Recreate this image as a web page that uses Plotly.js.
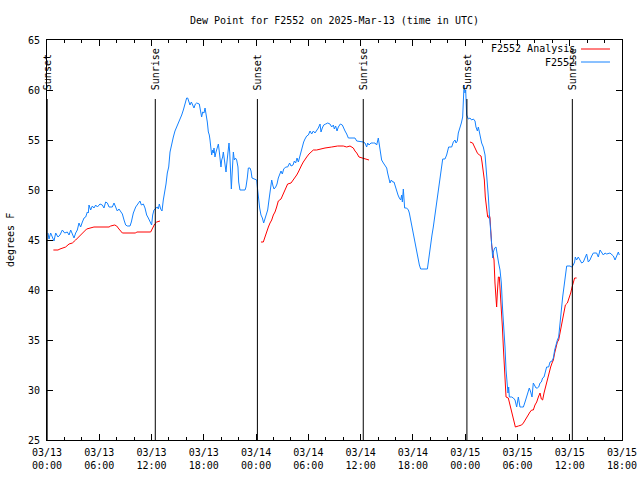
<!DOCTYPE html>
<html>
<head>
<meta charset="utf-8">
<script src="https://cdn.plot.ly/plotly-3.0.1.min.js"></script>
<style>html,body{margin:0;padding:0;background:#fff;}#chart{width:640px;height:480px;}</style>
</head>
<body>
<div id="chart"></div>
<script>
// Hours since 2025-03-13 00:00 UTC
const blueHours = [0.11,0.23,0.42,0.61,0.80,1.00,1.26,1.49,1.76,2.03,2.33,2.53,2.72,2.91,3.10,3.29,3.48,3.67,3.86,4.06,4.25,4.44,4.63,4.74,4.82,5.01,5.20,5.39,5.59,5.78,6.08,6.35,6.54,6.73,6.93,7.12,7.50,7.69,7.88,8.07,8.26,8.46,8.65,8.84,9.03,9.22,9.53,9.68,9.91,10.18,10.45,10.67,10.83,11.06,11.25,11.44,11.63,
11.82,12.01,12.13,12.28,12.51,12.66,12.78,12.89,13.05,13.20,13.35,13.54,13.66,13.81,13.97,14.12,14.31,14.50,14.69,14.88,15.07,15.27,15.46,15.65,15.84,16.03,16.15,16.26,16.41,16.57,16.72,16.87,17.03,17.18,17.48,17.64,17.75,17.87,18.02,18.14,18.25,18.40,18.52,18.63,18.71,18.79,18.90,19.02,19.09,19.17,19.28,19.40,19.55,19.67,19.78,19.86,19.97,20.05,20.16,20.24,20.35,20.47,20.55,20.62,20.70,20.81,20.89,20.97,21.04,21.16,21.24,21.31,21.39,21.50,21.62,21.77,21.92,22.00,22.15,22.73,22.84,22.99,23.11,23.30,23.42,23.53,23.76,
23.88,24.07,24.18,24.26,24.41,24.56,24.72,24.87,25.02,25.18,25.33,25.48,25.63,25.79,25.94,26.06,26.25,26.40,26.55,26.71,26.86,27.01,27.17,27.40,27.62,27.85,28.01,28.24,28.39,28.54,28.70,28.85,29.00,29.16,29.31,29.46,29.61,29.81,30.00,30.19,30.38,30.57,30.76,30.95,31.14,31.34,31.45,31.60,31.76,31.99,32.22,32.48,32.68,32.87,32.98,33.13,33.29,33.44,33.67,33.90,34.05,34.21,34.40,34.59,35.35,35.55,36.31,36.50,36.69,36.81,36.96,37.19,37.46,
37.65,37.84,38.03,38.15,38.30,38.41,38.61,38.80,38.99,39.10,39.26,39.37,39.52,39.68,39.83,39.98,40.14,40.29,40.44,40.60,40.71,40.79,40.90,40.98,41.05,41.28,41.48,41.59,41.74,41.90,42.05,42.20,42.36,42.51,42.74,42.89,43.66,43.77,43.89,44.04,44.19,44.34,44.50,44.65,44.80,44.96,45.11,45.26,45.42,45.68,45.87,46.10,46.45,46.64,46.83,46.95,47.10,47.21,47.41,47.56,47.71,47.79,47.87,47.98,48.06,48.17,48.36,48.55,48.74,48.94,49.13,49.24,49.40,49.51,
49.70,49.89,50.08,50.28,50.39,50.54,50.66,50.77,50.93,51.04,51.16,51.23,51.38,51.54,51.69,51.84,52.00,52.15,52.30,52.46,52.57,52.69,52.80,52.91,52.99,53.07,53.34,53.53,53.72,53.91,54.10,54.29,54.48,54.68,54.87,55.06,55.25,55.36,55.52,55.67,55.82,55.98,56.13,56.28,56.44,56.59,56.74,56.89,57.05,57.20,57.35,57.58,57.74,57.97,58.12,58.27,58.43,58.58,58.73,58.88,59.04,59.19,59.34,59.50,59.65,60.03,60.22,60.41,60.56,60.64,60.79,60.98,61.18,61.37,61.56,61.75,61.94,62.13,62.32,62.52,62.71,63.09,63.28,63.48,63.67,63.86,64.05,64.24,64.62,64.82,65.01,65.20,65.31,65.47,65.58,65.69];
const blueValues = [45.7,45.1,45.7,45.3,44.9,45.7,45.3,45.5,46.0,45.7,45.8,45.5,46.0,45.6,45.2,45.7,46.0,46.7,46.3,46.8,47.2,47.3,47.8,47.7,48.5,48.0,48.4,48.2,48.5,48.3,48.6,48.5,48.2,48.8,48.7,48.3,48.3,48.7,48.3,47.9,48.1,47.8,47.6,47.0,46.5,46.4,46.4,46.8,47.7,48.3,48.7,48.9,48.5,48.6,48.2,47.5,47.2,
46.8,46.5,47.5,48.0,48.2,48.3,48.1,48.6,48.1,47.9,49.0,49.8,50.6,51.7,52.3,53.8,54.7,55.3,55.9,56.3,56.7,57.0,57.5,58.0,58.7,59.2,59.2,58.8,58.5,58.8,58.4,58.2,58.6,58.7,58.6,57.8,57.3,57.8,57.7,58.2,57.7,56.8,55.8,55.5,55.0,54.0,53.5,54.0,53.7,54.2,53.3,53.8,54.3,54.6,53.8,52.7,52.3,53.0,53.3,53.8,53.0,52.5,51.8,52.5,53.3,54.2,54.7,53.8,51.5,50.1,51.5,53.3,53.8,53.0,53.2,53.0,52.3,50.8,50.0,50.0,50.3,51.2,52.2,52.2,51.9,51.2,51.1,
51.1,51.0,50.0,49.2,48.2,47.5,47.2,46.7,47.1,47.4,48.0,49.0,50.2,51.0,50.4,50.1,50.3,50.6,51.2,51.7,51.9,51.6,52.1,52.3,52.3,52.7,52.4,52.5,52.9,52.7,53.2,52.8,53.3,54.0,54.5,54.8,55.1,55.4,55.5,55.9,55.6,55.9,55.7,55.9,56.2,56.6,55.8,56.2,56.5,56.6,56.7,56.6,56.3,56.5,56.1,56.4,55.9,56.3,56.6,56.5,56.1,55.9,55.6,55.2,55.2,54.9,54.8,54.7,54.3,54.7,54.5,54.7,54.7,
54.7,54.5,55.2,54.5,53.8,53.0,52.7,52.4,52.2,51.7,51.2,50.7,51.0,50.8,50.8,50.3,49.8,49.5,49.2,49.0,49.5,48.8,50.1,49.0,48.2,48.2,48.0,47.7,47.0,46.3,45.7,45.0,44.0,43.2,42.5,42.1,42.1,42.8,43.7,44.5,45.5,46.3,47.3,48.3,49.3,50.3,51.3,52.3,53.1,53.1,53.5,54.3,54.3,54.8,55.0,54.7,54.9,55.7,56.2,56.7,57.3,59.3,60.5,59.7,60.0,57.5,57.1,57.2,57.0,57.1,56.9,56.3,55.9,56.3,
55.5,54.7,54.3,53.5,52.3,51.0,49.3,47.7,46.0,44.7,43.2,43.8,44.2,44.3,43.3,42.7,42.0,40.7,38.0,36.0,34.3,32.0,30.7,29.7,30.3,29.3,29.3,29.2,29.0,28.3,29.3,28.3,28.3,28.3,28.8,29.3,29.7,30.2,29.8,29.3,30.7,30.5,30.2,30.2,30.3,30.7,30.8,31.2,31.3,31.8,32.3,32.3,32.8,32.9,33.2,34.0,34.7,35.0,35.3,37.0,38.0,39.3,40.3,41.3,42.4,42.4,42.3,42.5,42.8,43.3,43.0,43.3,43.0,42.7,42.8,43.2,43.6,42.8,43.0,43.4,43.7,43.7,43.3,44.0,43.8,43.5,43.7,43.6,43.7,43.5,43.4,43.0,43.3,43.7,43.8,43.5];

const redHours = [0.73,1.26,1.49,1.87,2.14,2.53,2.91,3.29,3.67,4.06,4.32,4.55,4.94,5.39,7.12,7.31,7.77,8.00,8.26,8.53,8.65,10.18,10.29,11.90,12.09,12.36,12.59,12.97,
18.0,
24.56,24.83,25.02,25.21,25.41,25.60,25.79,25.98,26.17,26.36,26.55,26.86,27.13,27.40,27.62,28.01,28.27,28.47,28.66,28.85,29.04,29.23,29.42,29.61,29.81,30.07,30.30,30.57,30.95,31.34,31.91,32.68,33.36,34.01,34.40,34.78,35.16,35.35,35.55,35.81,36.12,36.50,36.96,
42.0,
48.55,48.86,49.13,49.40,49.62,49.82,49.93,50.08,50.20,50.31,50.47,50.58,50.70,50.77,50.85,50.93,51.04,51.16,51.31,51.42,51.54,51.61,51.69,51.81,51.92,52.00,52.15,52.27,52.38,52.49,52.61,52.69,52.95,53.15,53.30,53.45,53.60,53.76,54.10,54.48,54.68,54.87,55.06,55.25,55.44,55.63,55.82,56.01,56.21,56.40,56.59,56.74,56.89,57.05,57.20,57.35,57.51,57.66,57.81,57.97,58.12,58.27,58.43,58.58,58.73,58.88,59.04,59.19,59.34,59.50,59.73,59.96,60.11,60.27,60.41,60.56,60.79];
const redValues = [44.0,44.0,44.1,44.2,44.3,44.6,44.7,45.0,45.3,45.6,45.9,46.1,46.2,46.3,46.3,46.4,46.5,46.4,46.1,45.8,45.7,45.7,45.8,45.8,46.2,46.6,46.8,46.9,
null,
44.8,44.8,45.3,45.9,46.3,46.7,47.0,47.5,47.8,48.3,48.9,49.1,49.7,50.3,50.6,50.7,51.0,51.3,51.5,51.8,52.2,52.5,52.8,53.0,53.3,53.6,53.8,54.0,54.0,54.1,54.2,54.3,54.4,54.4,54.3,54.4,54.2,53.9,53.7,53.3,53.2,53.1,53.0,
null,
54.8,54.7,54.2,53.7,53.5,53.4,52.8,52.0,51.0,49.3,48.0,47.3,47.2,47.5,47.2,45.3,44.5,43.8,43.0,40.7,39.3,38.3,39.7,41.3,41.3,40.3,38.3,36.3,34.3,32.3,30.3,29.3,29.2,28.5,27.8,27.2,26.7,26.3,26.4,26.5,26.7,27.0,27.3,27.5,27.8,28.0,28.0,28.5,28.8,29.3,29.7,29.1,29.0,29.7,30.2,30.8,31.5,32.0,32.3,32.7,33.0,33.7,34.3,34.8,35.0,35.7,36.3,37.0,37.7,38.5,38.7,39.2,39.7,40.3,40.8,41.2,41.2];

const eventHours = [0.02, 12.43, 24.15, 36.30, 48.20, 60.30];
const eventLabels = ["Sunset", "Sunrise", "Sunset", "Sunrise", "Sunset", "Sunrise"];

const tickHours = [0,6,12,18,24,30,36,42,48,54,60,66];
const tickLabels = ["03/13<br>00:00","03/13<br>06:00","03/13<br>12:00","03/13<br>18:00",
  "03/14<br>00:00","03/14<br>06:00","03/14<br>12:00","03/14<br>18:00",
  "03/15<br>00:00","03/15<br>06:00","03/15<br>12:00","03/15<br>18:00"];

const seriesNames = ["F2552 Analysis", "F2552"];
const seriesColors = ["#ff0000", "#1482ff"];

const FONT = {family: "DejaVu Sans Mono, Liberation Mono, monospace", size: 10, color: "#000"};

const traces = [
  {x: redHours, y: redValues, type: "scatter", mode: "lines", name: seriesNames[0],
   line: {color: seriesColors[0], width: 1}, connectgaps: false},
  {x: blueHours, y: blueValues, type: "scatter", mode: "lines", name: seriesNames[1],
   line: {color: seriesColors[1], width: 1}}
];

const shapes = eventHours.map(h => ({
  type: "line", xref: "x", yref: "y", x0: h, x1: h, y0: 25, y1: 59.1,
  line: {color: "#000", width: 1}
}));
const annotations = eventHours.map((h, i) => ({
  xref: "x", yref: "y", x: h, y: 59.8, text: eventLabels[i], textangle: -90,
  showarrow: false, xanchor: "center", yanchor: "bottom", font: FONT
}));

// legend (gnuplot style: text then sample)
const legY = [0.9775, 0.945];
seriesNames.forEach((n, i) => {
  annotations.push({xref: "paper", yref: "paper", x: 0.9217, y: legY[i], text: n,
    showarrow: false, xanchor: "right", yanchor: "middle", font: FONT});
  shapes.push({type: "line", xref: "paper", yref: "paper", x0: 0.9287, x1: 0.9791,
    y0: legY[i], y1: legY[i], line: {color: seriesColors[i], width: 1}});
});

annotations.push({xref: "paper", yref: "paper", x: -0.0643, y: 0.5, text: "degrees F",
  textangle: -90, showarrow: false, xanchor: "center", yanchor: "middle", font: FONT});

const layout = {
  width: 640, height: 480,
  margin: {l: 47, r: 18, t: 40, b: 40, pad: 0},
  paper_bgcolor: "#fff", plot_bgcolor: "#fff",
  showlegend: false,
  font: FONT,
  title: {text: "Dew Point for F2552 on 2025-Mar-13 (time in UTC)", font: FONT,
    x: 0.5, xref: "paper", xanchor: "center", y: 1 - 20/480, yref: "container", yanchor: "middle"},
  xaxis: {
    range: [0, 66], tickmode: "array", tickvals: tickHours, ticktext: tickLabels,
    showgrid: false, zeroline: false, showline: true, linecolor: "#000", linewidth: 1,
    mirror: "allticks", ticks: "inside", ticklen: 6, tickcolor: "#000", tickwidth: 1,
    minor: {tickmode: "array", tickvals: [2,4,8,10,14,16,20,22,26,28,32,34,38,40,44,46,50,52,56,58,62,64], ticks: "inside", ticklen: 3, tickcolor: "#000", showgrid: false},
    tickfont: FONT, ticklabelstandoff: 3, fixedrange: true
  },
  yaxis: {
    range: [25, 65], dtick: 5, tick0: 25,
    showgrid: false, zeroline: false, showline: true, linecolor: "#000", linewidth: 1,
    mirror: "allticks", ticks: "inside", ticklen: 6, tickcolor: "#000", tickwidth: 1,
    tickfont: FONT, ticklabelstandoff: 4, fixedrange: true
  },
  shapes: shapes,
  annotations: annotations
};

Plotly.newPlot("chart", traces, layout, {staticPlot: true, displayModeBar: false});
</script>
</body>
</html>
